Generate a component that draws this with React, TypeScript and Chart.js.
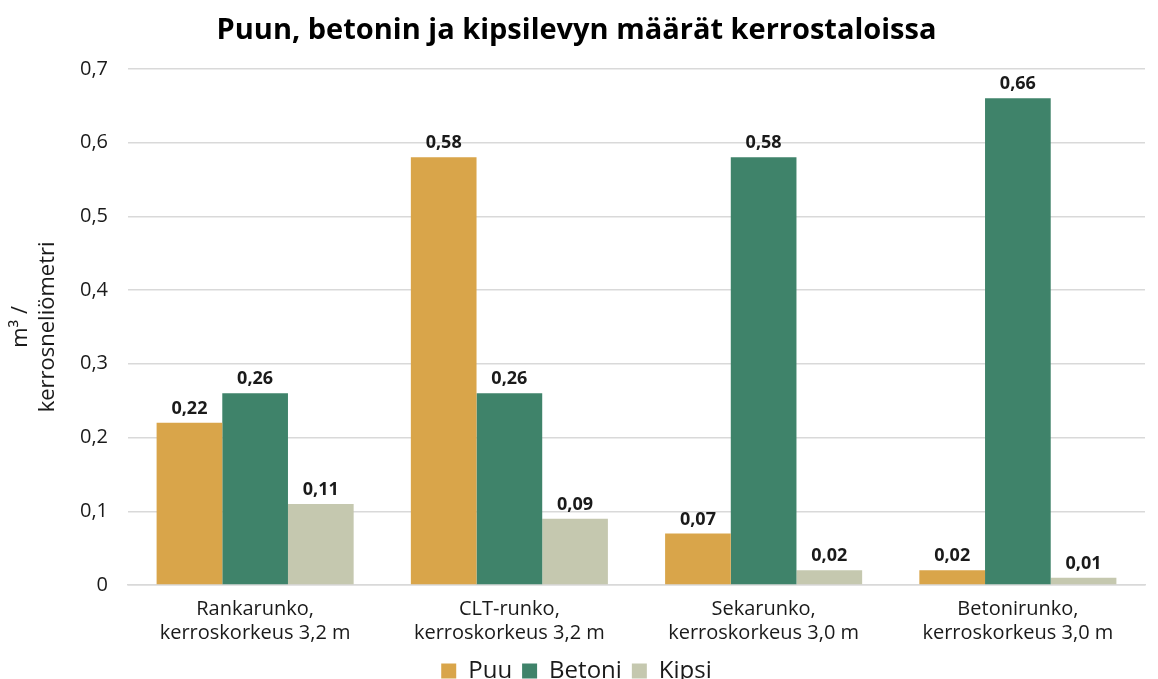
import React, { useEffect, useRef } from "react";
import { Chart, registerables } from "chart.js";

Chart.register(...registerables);

const categories: string[][] = [
  ["Rankarunko,", "kerroskorkeus 3,2 m"],
  ["CLT-runko,", "kerroskorkeus 3,2 m"],
  ["Sekarunko,", "kerroskorkeus 3,0 m"],
  ["Betonirunko,", "kerroskorkeus 3,0 m"],
];
const puu = [0.22, 0.58, 0.07, 0.02];
const betoni = [0.26, 0.26, 0.58, 0.66];
const kipsi = [0.11, 0.09, 0.02, 0.01];
const seriesNames = ["Puu", "Betoni", "Kipsi"];
const seriesColors = ["#D9A54A", "#3F836A", "#C5C8AF"];
const yTicks = [0, 0.1, 0.2, 0.3, 0.4, 0.5, 0.6, 0.7];

const FONT = "'Open Sans', 'Noto Sans', sans-serif";

const fmt = (v: number) => String(Math.round(v * 100) / 100).replace(".", ",");

const labelPlugin = {
  id: "valueLabels",
  afterDatasetsDraw(chart: any) {
    const ctx = chart.ctx;
    ctx.save();
    ctx.font = `bold 18px ${FONT}`;
    ctx.fillStyle = "#1a1a1a";
    ctx.textAlign = "center";
    ctx.textBaseline = "bottom";
    chart.data.datasets.forEach((ds: any, i: number) => {
      const meta = chart.getDatasetMeta(i);
      meta.data.forEach((el: any, j: number) => {
        ctx.fillText(fmt(ds.data[j]), el.x, el.y - 5);
      });
    });
    ctx.restore();
  },
};

export default function App() {
  const ref = useRef<HTMLCanvasElement>(null);
  useEffect(() => {
    document.body.style.margin = "0";
    document.body.style.overflow = "hidden";
    const data = [puu, betoni, kipsi];
    const chart = new Chart(ref.current!, {
      type: "bar",
      data: {
        labels: categories as any,
        datasets: data.map((d, i) => ({
          label: seriesNames[i],
          data: d,
          backgroundColor: seriesColors[i],
          borderWidth: 0,
          categoryPercentage: 0.775,
          barPercentage: 1,
        })),
      },
      plugins: [labelPlugin],
      options: {
        animation: false,
        responsive: false,
        maintainAspectRatio: false,
        layout: { padding: { left: 8, right: 13, top: 0, bottom: 0 } },
        plugins: {
          title: {
            display: true,
            text: "Puun, betonin ja kipsilevyn määrät kerrostaloissa",
            color: "#000",
            font: { family: FONT, size: 29, weight: "bold" },
            padding: { top: 13, bottom: 21 },
          },
          legend: {
            position: "bottom",
            labels: {
              color: "#1a1a1a",
              font: { family: FONT, size: 24 },
              boxWidth: 15,
              boxHeight: 15,
              padding: 10,
            },
          },
          tooltip: { enabled: false },
        },
        scales: {
          x: {
            grid: { display: false },
            border: { color: "#D9D9D9", width: 1.5 },
            ticks: {
              color: "#1a1a1a",
              font: { family: FONT, size: 20 },
              maxRotation: 0,
              padding: 4,
            },
          },
          y: {
            min: 0,
            max: 0.7,
            afterBuildTicks: (s: any) => {
              s.ticks = yTicks.map((v) => ({ value: v }));
            },
            afterFit: (s: any) => {
              s.width = 120;
            },
            grid: { color: "#D9D9D9", lineWidth: 1.5, drawTicks: false },
            border: { display: false },
            ticks: {
              color: "#1a1a1a",
              font: { family: FONT, size: 20 },
              padding: 20,
              callback: (v: any) => fmt(Number(v)),
            },
            title: {
              display: true,
              text: ["m³ /", "kerrosneliömetri"],
              color: "#1a1a1a",
              font: { family: FONT, size: 22 },
              padding: 0,
            },
          },
        },
      },
    });
    return () => chart.destroy();
  }, []);
  return (
    <div style={{ width: 1158, height: 679, overflow: "hidden" }}>
      <canvas ref={ref} width={1158} height={693} style={{ display: "block" }} />
    </div>
  );
}
